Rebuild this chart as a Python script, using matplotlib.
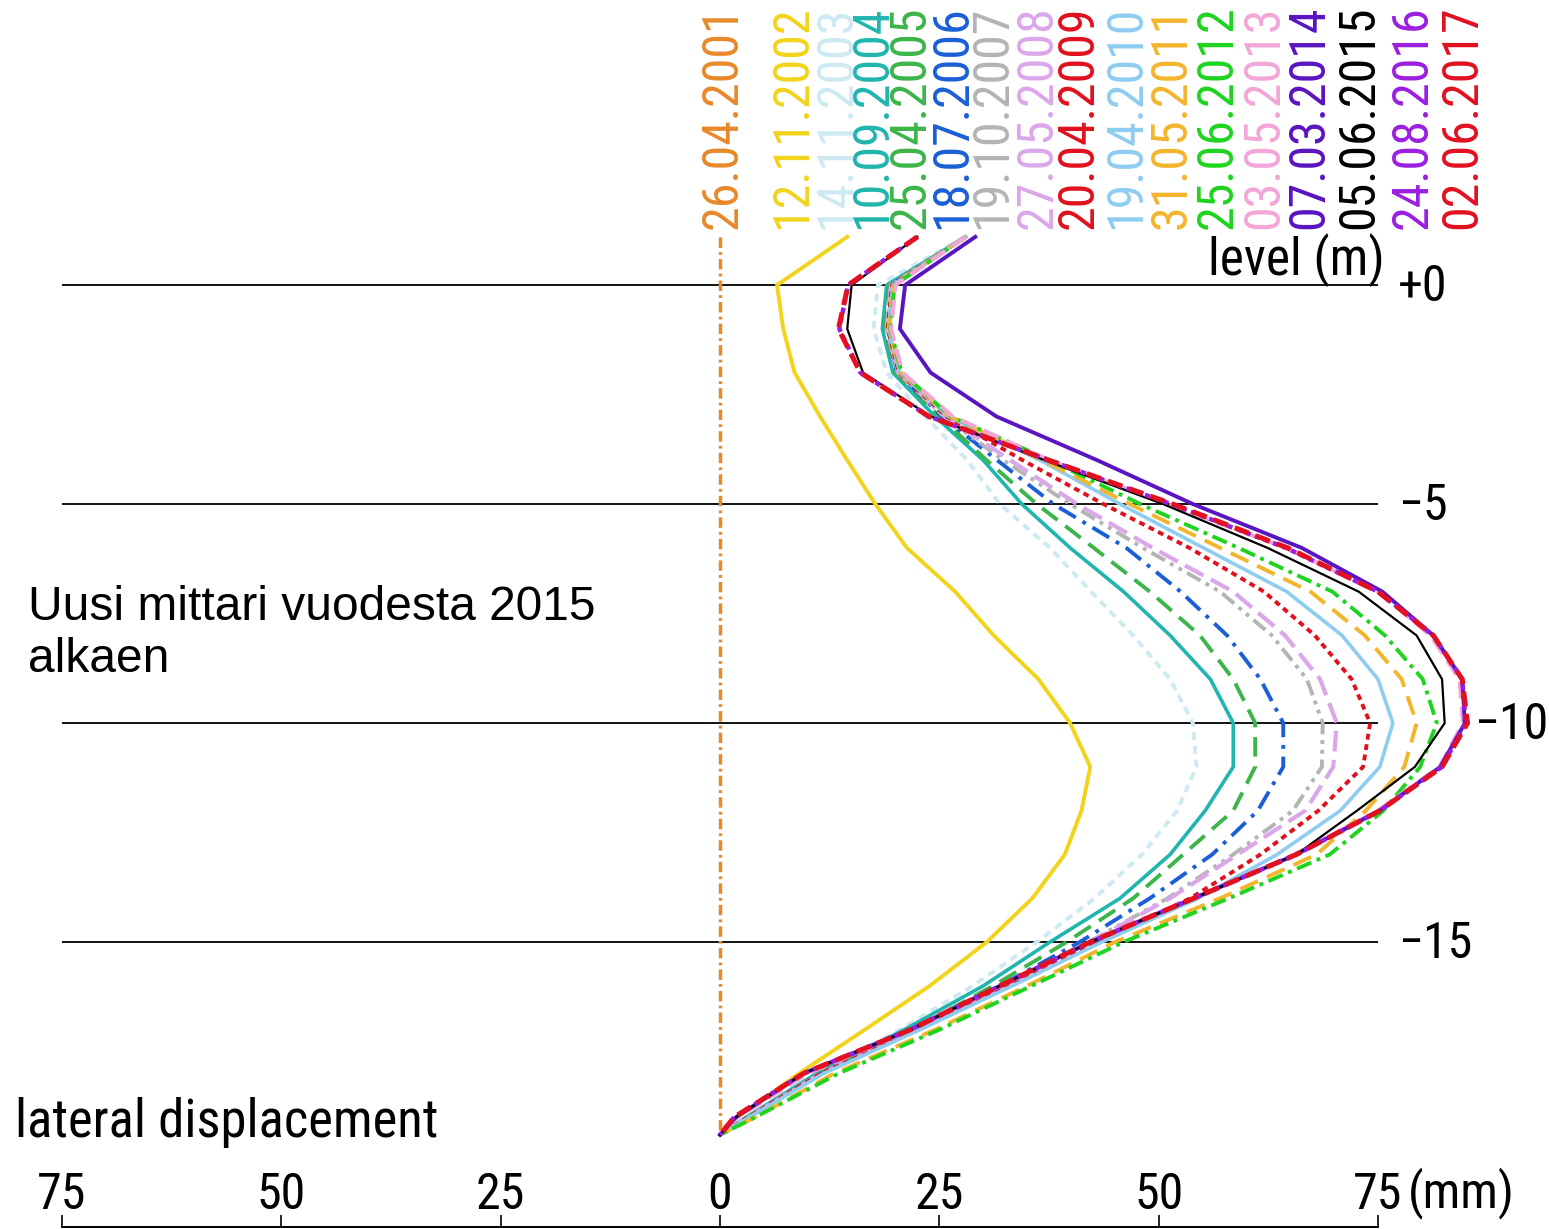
import matplotlib.pyplot as plt
from matplotlib.ticker import FuncFormatter

# depth levels (m) at which the displacement is read
levels = [1.1, 0, -1, -2, -3, -4, -5, -6, -7, -8, -9, -10,
          -11, -12, -13, -14, -15, -16, -17, -18, -19, -19.4]

dates = ["26.04.2001", "12.11.2002", "14.11.2003", "10.09.2004", "25.04.2005",
         "18.07.2006", "19.10.2007", "27.05.2008", "20.04.2009", "19.04.2010",
         "31.05.2011", "25.06.2012", "03.05.2013", "07.03.2014", "05.06.2015",
         "24.08.2016", "02.06.2017"]

# lateral displacement (mm), one list per measurement
d2001 = [0, 0, 0, 0, 0, 0, 0, 0, 0, 0, 0, 0, 0, 0, 0, 0, 0, 0, 0, 0, 0, 0]
d2002 = [14.5, 6.5, 7.2, 8.5, 11.4, 14.5, 17.7, 21.3, 26.8, 31.2, 36.3, 39.9,
         42.2, 41.2, 39.3, 35.6, 30.4, 23.9, 16.5, 9.0, 2.0, 0]
d2003 = [28, 18.0, 17.5, 19.0, 23.4, 28.2, 31.9, 37.6, 42.3, 47.1, 51.3, 53.9,
         54.3, 52.1, 48.1, 42.7, 36.1, 28.8, 20.5, 11.0, 3.0, 0]
d2004 = [28, 19.0, 18.5, 19.7, 24.5, 30.0, 34.4, 39.9, 46.0, 51.3, 55.9, 58.5,
         58.5, 55.3, 51.3, 45.6, 37.6, 30.0, 21.0, 11.0, 3.0, 0]
d2005 = [28, 19.3, 18.8, 20.0, 25.0, 30.4, 36.1, 42.6, 49.0, 54.7, 58.5, 61.0,
         61.0, 58.5, 52.8, 47.1, 39.5, 31.1, 22.0, 11.5, 3.2, 0]
d2006 = [28, 19.5, 19.0, 20.2, 25.3, 31.6, 38.0, 46.3, 52.5, 57.8, 61.6, 64.2,
         64.2, 61.3, 56.1, 49.0, 41.0, 31.9, 22.0, 11.5, 3.2, 0]
d2007 = [28, 19.5, 19.0, 20.3, 25.5, 32.3, 39.9, 48.2, 57.0, 62.9, 66.9, 68.7,
         68.6, 65.3, 58.5, 51.0, 42.0, 32.3, 22.3, 11.5, 3.2, 0]
d2008 = [28, 19.5, 19.0, 20.3, 25.6, 33.1, 40.7, 49.3, 58.5, 64.4, 68.4, 70.3,
         69.9, 66.7, 59.0, 51.3, 42.2, 32.5, 22.5, 11.5, 3.2, 0]
d2009 = [28, 19.6, 19.1, 20.4, 25.8, 34.5, 43.7, 53.5, 62.0, 67.8, 72.0, 74.1,
         73.3, 68.2, 61.6, 53.6, 43.0, 33.0, 22.5, 11.5, 3.2, 0]
d2010 = [28, 19.7, 19.2, 20.5, 26.0, 36.5, 45.6, 55.1, 64.6, 70.9, 75.0, 76.7,
         75.2, 70.7, 63.5, 54.5, 43.5, 33.3, 22.8, 11.8, 3.3, 0]
d2011 = [28, 19.8, 19.3, 20.6, 26.2, 36.8, 46.7, 57.0, 67.3, 73.5, 77.7, 79.4,
         78.0, 73.6, 68.0, 57.0, 45.0, 35.0, 24.5, 13.0, 4.0, 0]
d2012 = [28, 19.9, 19.4, 20.7, 26.3, 37.6, 47.9, 59.1, 69.8, 75.8, 80.1, 81.7,
         79.8, 75.6, 69.5, 58.0, 46.0, 35.5, 25.0, 13.5, 4.0, 0]
d2013 = [28, 20.0, 19.5, 20.8, 26.5, 37.5, 51.0, 64.5, 75.0, 81.0, 84.3, 84.7,
         82.0, 75.0, 65.5, 54.0, 42.2, 32.0, 21.8, 10.0, 2.0, 0]
d2014 = [29.1, 21.1, 20.5, 24.0, 31.5, 43.0, 53.9, 66.3, 75.5, 81.3, 84.6, 84.9,
         82.1, 75.2, 65.7, 54.0, 42.2, 31.9, 21.7, 9.5, 1.8, 0]
d2015 = [22.5, 15.0, 14.5, 16.3, 24.0, 37.0, 50.5, 62.4, 72.8, 79.4, 82.3, 82.6,
         79.2, 72.6, 65.7, 54.0, 42.2, 31.9, 21.7, 9.5, 1.8, 0]
d2016 = [22.5, 14.6, 13.6, 16.0, 23.8, 37.5, 51.4, 64.5, 75.0, 81.3, 84.6, 85.0,
         82.3, 75.2, 65.7, 54.0, 42.2, 31.9, 21.7, 9.5, 1.6, 0]
d2017 = [22.5, 14.6, 13.5, 16.0, 23.8, 37.5, 51.6, 64.7, 75.0, 81.3, 84.6, 85.2,
         82.3, 75.2, 65.7, 54.0, 42.2, 31.9, 21.7, 9.5, 1.6, 0]

series = [d2001, d2002, d2003, d2004, d2005, d2006, d2007, d2008, d2009,
          d2010, d2011, d2012, d2013, d2014, d2015, d2016, d2017]

colors = ['#e8892a', '#f2d41c', '#cde9f2', '#20b5ae', '#3cb54a', '#1a5fd6',
          '#b4b4b4', '#dba6ea', '#e0101e', '#8ecdf0', '#f2b52c', '#1ed41e',
          '#f2a6d8', '#5a14c0', '#000000', '#9b1ee0', '#e21020']
styles = [(0, (3, 1.2, 0.8, 1.2)), '-', (0, (2, 1.5)), '-', (0, (5, 2.5)),
          (0, (5, 2, 1, 2)), (0, (4, 1.5, 1, 1.5, 1, 1.5)), (0, (5, 2)),
          (0, (1.5, 1.2)), '-', (0, (5, 2.5)), (0, (4, 1.5, 1, 1.5)),
          (0, (4, 2)), '-', '-', (0, (1.2, 1)), (0, (3, 1.5))]
widths = [2.5, 2.8, 2.8, 2.6, 2.8, 2.8, 2.8, 3.0, 2.8, 2.6, 2.8, 2.8,
          3.0, 2.8, 1.6, 3.2, 3.6]

# label x positions (mm) above the plot
label_x = [0.3, 8.2, 13.2, 17.3, 21.7, 26.4, 31.0, 36.2, 40.9, 46.3, 51.5,
           56.7, 62.0, 67.2, 72.9, 78.9, 84.6]

grid_levels = [0, -5, -10, -15]
grid_names = ['+0', '−5', '−10', '−15']
grid_name_x = [77.3, 77.3, 86.0, 77.3]
x_ticks = [-75, -50, -25, 0, 25, 50, 75]

iso = ['Roboto Condensed', 'DejaVu Sans']
fsize = 36

fig = plt.figure(figsize=(15.49, 12.29), dpi=100)
ax = fig.add_axes([0, 0, 1, 1])
ax.set_xlim(-82.07, 94.49)
ax.set_ylim(-21.55, 6.507)

ax.hlines(grid_levels, -75, 75, color='black', lw=1.3, zorder=1)

for d, c, s, w in zip(series, colors, styles, widths):
    ax.plot(d, levels, color=c, linestyle=s, lw=w, zorder=2)

for name, c, x in zip(dates, colors, label_x):
    ax.text(x, 1.28, name, color=c, rotation=90, rotation_mode='anchor',
            ha='left', va='center', fontsize=fsize, family=iso)

for lv, name, x in zip(grid_levels, grid_names, grid_name_x):
    ax.text(x, lv - 0.05, name, ha='left', va='center', fontsize=fsize, family=iso)

ax.text(75.8, 0.22, 'level (m)', ha='right', va='baseline', fontsize=37, family=iso)
ax.text(-80.4, -19.45, 'lateral displacement', ha='left', va='baseline',
        fontsize=38, family=iso)
ax.text(78.4, -20.72, '(mm)', ha='left', va='center', fontsize=fsize, family=iso)

ax.text(-78.9, -6.85, 'Uusi mittari vuodesta 2015\nalkaen', ha='left', va='top',
        fontsize=34.5, family=['Liberation Sans', 'DejaVu Sans'], linespacing=1.2)

# bottom scale
for side in ['top', 'left', 'right']:
    ax.spines[side].set_visible(False)
ax.spines['bottom'].set_position(('data', -21.5))
ax.spines['bottom'].set_bounds(-75, 75)
ax.spines['bottom'].set_linewidth(1.4)
ax.set_xticks(x_ticks)
ax.xaxis.set_major_formatter(FuncFormatter(lambda v, p: f'{abs(v):.0f}'))
ax.tick_params(axis='x', direction='in', length=9, width=1.2, pad=-40,
               labelsize=fsize)
for lab in ax.get_xticklabels():
    lab.set_family(iso)
ax.set_yticks([])

fig.savefig('out.png', dpi=100)
